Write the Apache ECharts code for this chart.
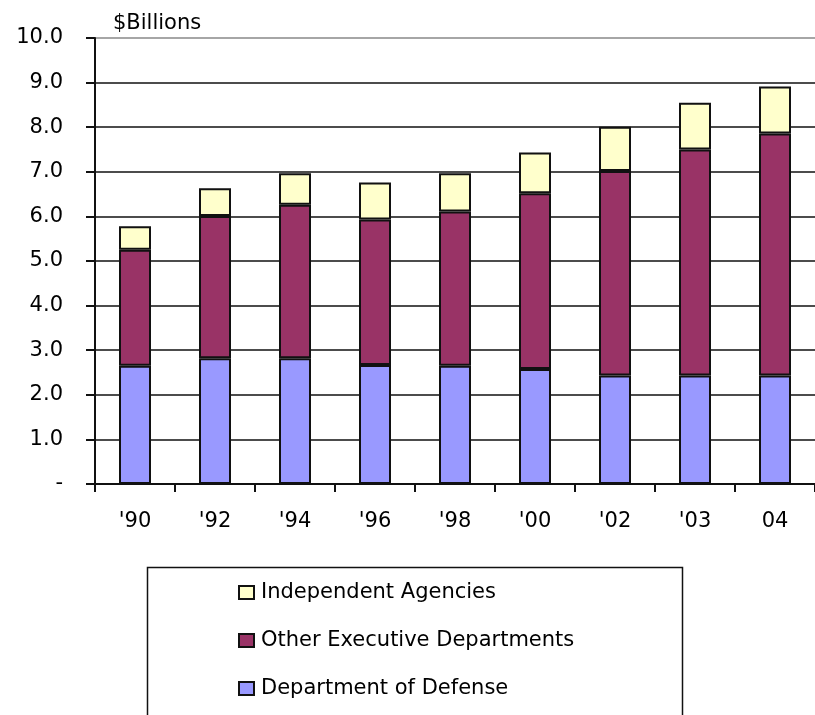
<!DOCTYPE html>
<html>
<head>
<meta charset="utf-8">
<script src="https://cdn.jsdelivr.net/npm/echarts@6/dist/echarts.min.js"></script>
<style>
  html, body { margin: 0; padding: 0; background: #fff; }
  #chart { width: 815px; height: 715px; }
</style>
</head>
<body>
<div id="chart"></div>
<script>
// fiscal years on the x axis
const years = ["'90", "'92", "'94", "'96", "'98", "'00", "'02", "'03", '04']

// $ billions, stacked bottom to top
const defense = [2.65, 2.82, 2.82, 2.67, 2.65, 2.58, 2.43, 2.43, 2.43]
const otherExec = [2.60, 3.19, 3.44, 3.26, 3.46, 3.94, 4.59, 5.07, 5.43]
const independent = [0.53, 0.62, 0.71, 0.83, 0.86, 0.91, 0.99, 1.05, 1.05]

const yTicks = [0, 1, 2, 3, 4, 5, 6, 7, 8, 9, 10]

const font = 'DejaVu Sans'

const barStyle = (color) => ({
  color: color,
  borderColor: '#111',
  borderWidth: 2
})

const chart = echarts.init(document.getElementById('chart'))

// top gridline (10.0) is lighter than the rest
const gridColors = yTicks.map(v => (v === 10 ? '#888' : '#111'))

chart.setOption({
  animation: false,
  backgroundColor: '#fff',
  textStyle: { fontFamily: font },
  title: {
    text: '$Billions',
    left: 108,
    top: 8,
    textStyle: { fontFamily: font, fontSize: 21, fontWeight: 'normal', color: '#000' }
  },
  grid: { left: 95, top: 38, width: 723, height: 446, containLabel: false },
  xAxis: {
    type: 'category',
    data: years,
    boundaryGap: true,
    axisLine: { lineStyle: { color: '#111', width: 2 } },
    axisTick: { show: true, interval: 0, length: 8, lineStyle: { color: '#111', width: 2 } },
    axisLabel: { interval: 0, margin: 27, fontSize: 21, color: '#000', fontFamily: font },
    splitLine: { show: false }
  },
  yAxis: {
    type: 'value',
    min: 0,
    max: 10,
    interval: 1,
    axisLine: { show: true, lineStyle: { color: '#111', width: 2 } },
    axisTick: { show: true, length: 9, lineStyle: { color: '#111', width: 2 } },
    axisLabel: {
      margin: 32,
      fontSize: 21,
      color: '#000',
      fontFamily: font,
      formatter: v => (v === 0 ? '-' : v.toFixed(1))
    },
    splitLine: { show: true, lineStyle: { color: gridColors, width: 1.5 } }
  },
  legend: {
    orient: 'vertical',
    left: 238,
    top: 582,
    padding: 0,
    itemWidth: 15,
    itemHeight: 13,
    itemGap: 27,
    icon: 'rect',
    textStyle: { fontFamily: font, fontSize: 21, color: '#000', padding: [0, 0, 0, 2] },
    data: ['Independent Agencies', 'Other Executive Departments', 'Department of Defense']
  },
  graphic: [{
    type: 'rect',
    shape: { x: 147.5, y: 567.5, width: 535, height: 170 },
    style: { fill: 'none', stroke: '#111', lineWidth: 1.5 },
    z: -1
  }],
  series: [
    {
      name: 'Department of Defense',
      type: 'bar',
      stack: 'total',
      barWidth: 32,
      data: defense,
      itemStyle: barStyle('#9999FF')
    },
    {
      name: 'Other Executive Departments',
      type: 'bar',
      stack: 'total',
      barWidth: 32,
      data: otherExec,
      itemStyle: barStyle('#993366')
    },
    {
      name: 'Independent Agencies',
      type: 'bar',
      stack: 'total',
      barWidth: 32,
      data: independent,
      itemStyle: barStyle('#FFFFCC')
    }
  ]
})
</script>
</body>
</html>
